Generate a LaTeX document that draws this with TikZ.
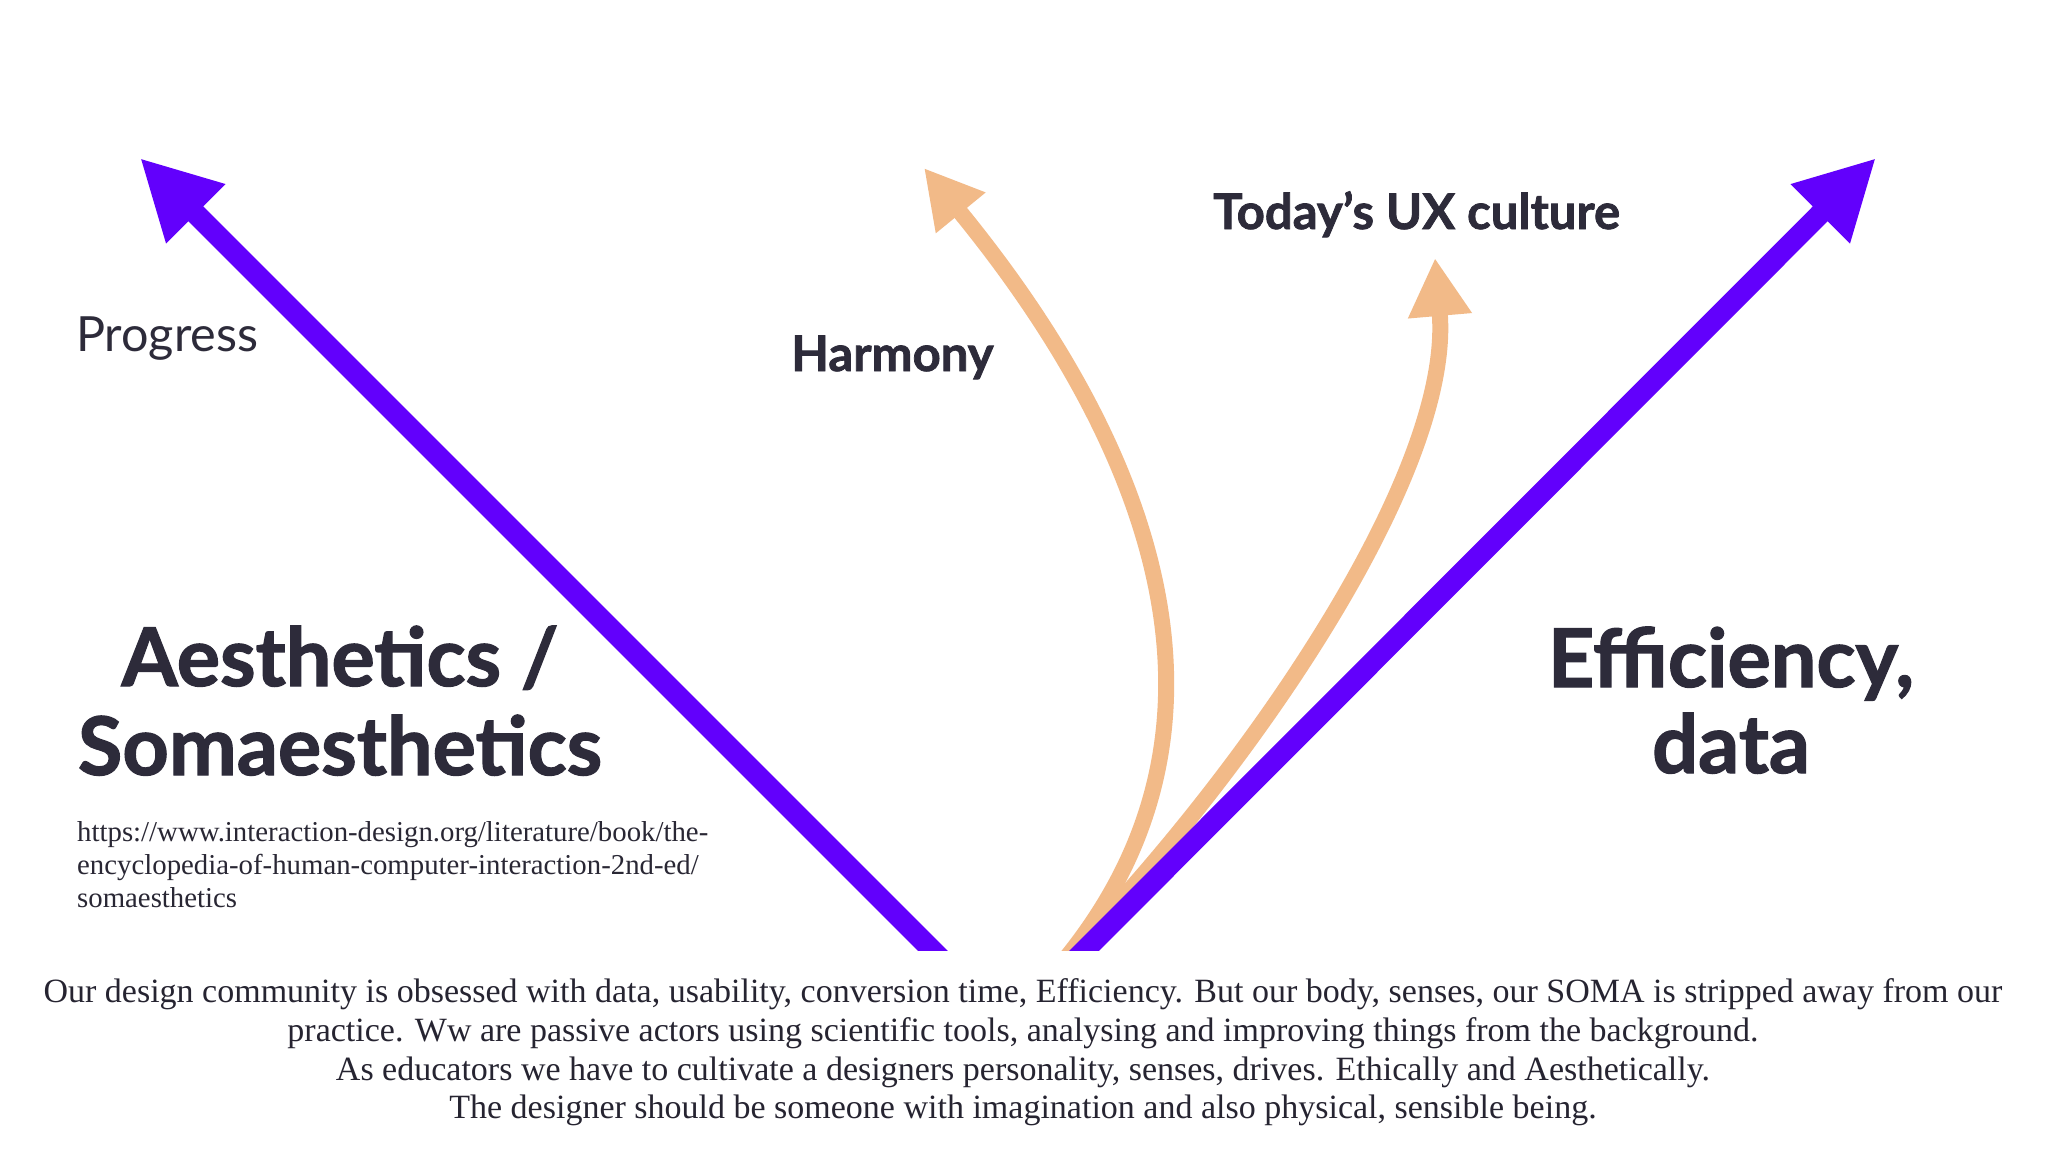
\documentclass[tikz,border=0pt]{standalone}
\usepackage{fontspec}
\setmainfont{Lato}
\newfontfamily\heavyfont{Lato}[BoldFeatures={FakeBold=1.5}]
\newfontfamily\serifbody{Liberation Serif}
\usetikzlibrary{arrows.meta}
\definecolor{vio}{RGB}{98,0,252}
\definecolor{peach}{RGB}{242,186,136}
\definecolor{ink}{RGB}{45,43,58}
\tikzset{
  bigarrow/.style={draw=vio, line width=21pt, -{Triangle[length=79pt,width=78pt]}},
  softarrow/.style={draw=peach, line width=16pt, -{Triangle[length=58pt,width=60pt]}},
  headline/.style={text=ink, font=\heavyfont\fontsize{81}{89}\selectfont\bfseries, inner sep=0pt, anchor=base},
  midlabel/.style={text=ink, font=\heavyfont\fontsize{49}{56}\selectfont\bfseries, inner sep=0pt, anchor=base west},
  lightlabel/.style={text=ink, font=\fontsize{48.5}{56}\selectfont, inner sep=0pt, anchor=base west},
  urltext/.style={text=ink!90!black, font=\serifbody\fontsize{28.8}{33}\selectfont, inner sep=0pt, anchor=base west},
  bodytext/.style={text=ink!85!black, font=\serifbody\fontsize{34}{39}\selectfont, inner sep=0pt, anchor=base}
}
\begin{document}
\begin{tikzpicture}[x=1pt,y=-1pt]
\useasboundingbox (0,0) rectangle (2048,1152);
\fill[white] (0,0) rectangle (2048,1152);
% coordinates
\coordinate (lstart) at (955,973);
\coordinate (ltip) at (140,158);
\coordinate (rstart) at (1062,973);
\coordinate (rtip) at (1876,158);
\coordinate (hstart) at (1056,970);
\coordinate (htip) at (924,168);
\coordinate (ustart) at (1050,975);
\coordinate (utip) at (1435,258);
\begin{scope}
\clip (0,0) rectangle (2048,950);
\draw[softarrow] (hstart) .. controls (1262,730) and (1150,444) .. (htip);
\draw[softarrow] (ustart) .. controls (1231,795) and (1454,480) .. (utip);
\draw[bigarrow] (lstart) -- (ltip);
\draw[bigarrow] (rstart) -- (rtip);
\end{scope}
% labels
\node[lightlabel] (progress) at (76,351) {Progress};
\node[midlabel] (harmony) at (791,371) {Harmony};
\node[midlabel] (ux) at (1213,229) {Today’s UX culture};
\node[headline] (aes1) at (340,686) {Aesthetics /};
\node[headline] (aes2) at (340,775) {Somaesthetics};
\node[headline] (eff1) at (1731,687) {Efficiency,};
\node[headline] (eff2) at (1731,773) {data};
\node[urltext] (url1) at (77,841) {https://www.interaction-design.org/literature/book/the-};
\node[urltext] (url2) at (77,874) {encyclopedia-of-human-computer-interaction-2nd-ed/};
\node[urltext] (url3) at (77,907) {somaesthetics};
\node[bodytext] (b1) at (1023,1002) {Our design community is obsessed with data, usability, conversion time, Efficiency. But our body, senses, our SOMA is stripped away from our};
\node[bodytext] (b2) at (1023,1041) {practice. Ww are passive actors using scientific tools, analysing and improving things from the background.};
\node[bodytext] (b3) at (1023,1080) {As educators we have to cultivate a designers personality, senses, drives. Ethically and Aesthetically.};
\node[bodytext] (b4) at (1023,1118) {The designer should be someone with imagination and also physical, sensible being.};
\end{tikzpicture}
\end{document}
